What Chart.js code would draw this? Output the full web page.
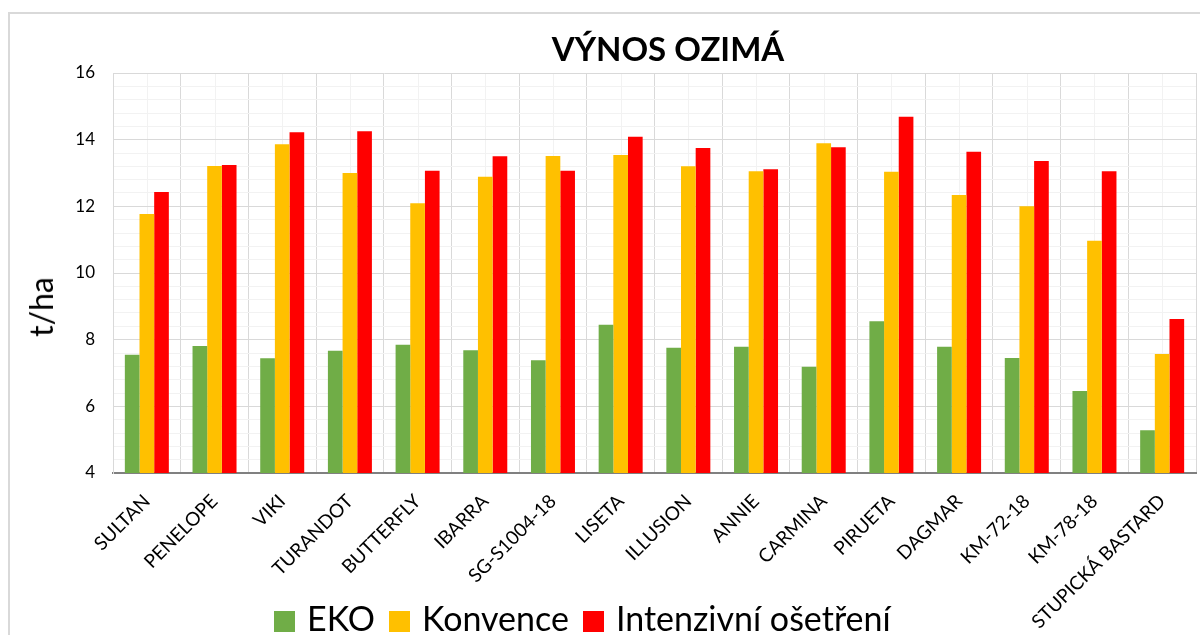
<!DOCTYPE html>
<html lang="cs">
<head>
<meta charset="utf-8">
<script src="https://cdn.jsdelivr.net/npm/chart.js@4.4.1/dist/chart.umd.min.js"></script>
<style>
  html, body { margin: 0; padding: 0; background: #fff; }
  #wrap { position: relative; width: 1200px; height: 635px; overflow: hidden; font-family: Lato, 'Open Sans', sans-serif; }
  #frame { position: absolute; left: 8px; top: 12px; width: 1400px; height: 800px; border: 2px solid #d9d9d9; box-sizing: border-box; }
  #chart { position: absolute; left: 0; top: 0; }
  #title { position: absolute; left: 668px; top: 32px; transform: translateX(-50%); font-size: 33px; font-weight: bold; line-height: 1; white-space: nowrap; color: #000; }
  #ylabel { position: absolute; left: 41px; top: 307px; transform: translate(-50%, -50%) rotate(-90deg); font-size: 32px; line-height: 1; white-space: nowrap; color: #000; }
  #legend { position: absolute; left: 274px; top: 601px; display: flex; font-size: 34px; line-height: 1; white-space: nowrap; color: #000; }
  #legend .item { display: flex; align-items: flex-start; margin-right: 14px; }
  #legend .box { width: 21px; height: 21px; margin-top: 10px; margin-right: 12px; }
</style>
</head>
<body>
<div id="wrap">
  <div id="frame"></div>
  <canvas id="chart" width="1200" height="635"></canvas>
  <div id="title">VÝNOS OZIMÁ</div>
  <div id="ylabel">t/ha</div>
  <div id="legend"></div>
</div>
<script>
// odrůdy
const categories = ['SULTAN', 'PENELOPE', 'VIKI', 'TURANDOT', 'BUTTERFLY', 'IBARRA', 'SG-S1004-18', 'LISETA',
  'ILLUSION', 'ANNIE', 'CARMINA', 'PIRUETA', 'DAGMAR', 'KM-72-18', 'KM-78-18', 'STUPICKÁ BASTARD'];

// výnos t/ha
const eko = [7.55, 7.81, 7.44, 7.67, 7.85, 7.68, 7.38, 8.45, 7.76, 7.79, 7.19, 8.55, 7.79, 7.45, 6.46, 5.28];
const konvence = [11.77, 13.21, 13.86, 13.0, 12.09, 12.89, 13.51, 13.54, 13.2, 13.05, 13.89, 13.04, 12.34, 12.0, 10.97, 7.57];
const intenzivni = [12.43, 13.24, 14.22, 14.25, 13.07, 13.5, 13.07, 14.09, 13.75, 13.11, 13.77, 14.69, 13.64, 13.36, 13.05, 8.62];

const seriesNames = ['EKO', 'Konvence', 'Intenzivní ošetření'];
const seriesColors = ['#70ad47', '#ffc000', '#ff0000'];

// y axis range
const yMin = 4, yMax = 16, yMajor = 2, yMinor = 0.4;

const isMajor = v => Math.abs(v / yMajor - Math.round(v / yMajor)) < 1e-6;

// light vertical lines in the middle of each category
const minorGrid = {
    id: 'minorGrid',
    beforeDraw(chart) {
        const { ctx, chartArea: a, scales: { x } } = chart;
        ctx.save();
        ctx.strokeStyle = '#f2f2f2';
        ctx.lineWidth = 1;
        categories.forEach((c, i) => {
            const px = Math.round(x.getPixelForValue(i)) + 0.5;
            ctx.beginPath();
            ctx.moveTo(px, a.top);
            ctx.lineTo(px, a.bottom);
            ctx.stroke();
        });
        ctx.restore();
    }
};

Chart.defaults.font.family = 'Lato, "Open Sans", sans-serif';
Chart.defaults.color = '#000';

new Chart(document.getElementById('chart'), {
    type: 'bar',
    data: {
        labels: categories,
        datasets: [eko, konvence, intenzivni].map((d, i) => ({
            label: seriesNames[i],
            data: d,
            backgroundColor: seriesColors[i],
            borderWidth: 0,
            barPercentage: 1,
            categoryPercentage: 0.65
        }))
    },
    options: {
        responsive: false,
        animation: false,
        layout: { padding: { top: 73, right: 4, left: 0, bottom: 0 } },
        plugins: {
            legend: { display: false },
            title: { display: false },
            tooltip: { enabled: false }
        },
        scales: {
            x: {
                grid: { offset: true, color: '#d9d9d9', drawTicks: false },
                border: { color: '#808080', width: 2 },
                ticks: { autoSkip: false, maxRotation: 45, minRotation: 45, font: { size: 19 }, padding: 17 },
                afterFit: s => { s.height = 162; }
            },
            y: {
                min: yMin,
                max: yMax,
                ticks: {
                    stepSize: yMinor,
                    autoSkip: false,
                    font: { size: 17 },
                    padding: 18,
                    callback: v => isMajor(v) ? v : ''
                },
                grid: {
                    drawTicks: false,
                    color: ctx => isMajor(ctx.tick.value) ? '#d9d9d9' : '#f2f2f2'
                },
                border: { color: '#d9d9d9', width: 1 },
                afterFit: s => { s.width = 113; }
            }
        }
    },
    plugins: [minorGrid]
});

// legend
const legendEl = document.getElementById('legend');
seriesNames.forEach((name, i) => {
    const item = document.createElement('div');
    item.className = 'item';
    item.innerHTML = `<span class="box" style="background:${seriesColors[i]}"></span><span>${name}</span>`;
    legendEl.appendChild(item);
});
</script>
</body>
</html>
